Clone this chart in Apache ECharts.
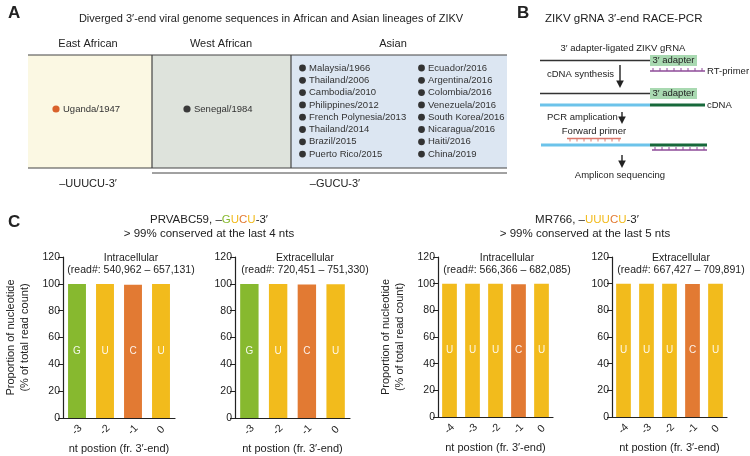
<!DOCTYPE html>
<html>
<head>
<meta charset="utf-8">
<style>
  html, body { margin: 0; padding: 0; background: #fff; }
  #chart { width: 750px; height: 456px; }
</style>
<script src="https://cdn.jsdelivr.net/npm/echarts@6/dist/echarts.min.js"></script>
</head>
<body>
<div id="chart"></div>
<script>
// --- data ---
const prvPositions = ['-3', '-2', '-1', '0'];
const prvBases = ['G', 'U', 'C', 'U'];
const prvIntra = [99.8, 99.9, 99.3, 99.8];
const prvExtra = [99.9, 99.8, 99.5, 99.7];

const mrPositions = ['-4', '-3', '-2', '-1', '0'];
const mrBases = ['U', 'U', 'U', 'C', 'U'];
const mrIntra = [99.9, 99.9, 99.9, 99.6, 99.9];
const mrExtra = [99.9, 99.9, 99.9, 99.7, 99.9];

const yTicks = [0, 20, 40, 60, 80, 100, 120];

const asianCol1 = ['Malaysia/1966', 'Thailand/2006', 'Cambodia/2010', 'Philippines/2012',
    'French Polynesia/2013', 'Thailand/2014', 'Brazil/2015', 'Puerto Rico/2015'];
const asianCol2 = ['Ecuador/2016', 'Argentina/2016', 'Colombia/2016', 'Venezuela/2016',
    'South Korea/2016', 'Nicaragua/2016', 'Haiti/2016', 'China/2019'];

const FONT = '"Liberation Sans", Arial, sans-serif';
const INK = '#222';
const baseColor = { G: '#87b92f', U: '#f2bb1c', C: '#e27a33' };

const chart = echarts.init(document.getElementById('chart'));

// --- helpers for the diagram panels ---
function txt(x, y, text, size, opt) {
    opt = opt || {};
    return {
        type: 'text', x: x, y: y, silent: true,
        style: Object.assign({
            text: text, fontSize: size, fontFamily: FONT, fill: INK,
            align: 'center', verticalAlign: 'middle'
        }, opt)
    };
}
function line(x1, y1, x2, y2, color, w) {
    return { type: 'line', silent: true, shape: { x1: x1, y1: y1, x2: x2, y2: y2 }, style: { stroke: color, lineWidth: w || 1 } };
}
function arrow(x, y1, y2) {
    return [
        line(x, y1, x, y2 - 5, '#222', 1.4),
        { type: 'polygon', silent: true, shape: { points: [[x - 3.8, y2 - 7.5], [x + 3.8, y2 - 7.5], [x, y2]] }, style: { fill: '#222' } }
    ];
}
function primer(x1, x2, y, color, dir) {
    const els = [line(x1, y, x2, y, color, 1.3)];
    for (let x = x1 + 3; x < x2; x += 7) {
        els.push(line(x, y, x, y + dir * 3, color, 1));
    }
    return els;
}

const graphics = [];

// panel A
graphics.push(txt(8, 13, 'A', 17, { fontWeight: 'bold', align: 'left' }));
graphics.push(txt(271, 19, 'Diverged 3\u2032-end viral genome sequences in African and Asian lineages of ZIKV', 11));
graphics.push(txt(88, 44, 'East African', 11));
graphics.push(txt(221, 44, 'West African', 11));
graphics.push(txt(393, 44, 'Asian', 11));
graphics.push({ type: 'rect', silent: true, shape: { x: 28, y: 55, width: 124, height: 113 }, style: { fill: '#fbf8e3' } });
graphics.push({ type: 'rect', silent: true, shape: { x: 152, y: 55, width: 139, height: 113 }, style: { fill: '#dee3dc' } });
graphics.push({ type: 'rect', silent: true, shape: { x: 291, y: 55, width: 216, height: 113 }, style: { fill: '#dce6f2' } });
graphics.push(line(28, 55, 507, 55, '#444', 1.2));
graphics.push(line(28, 168, 507, 168, '#444', 1.2));
graphics.push(line(152, 55, 152, 168, '#444', 1.2));
graphics.push(line(291, 55, 291, 168, '#444', 1.2));
graphics.push(line(152, 173, 507, 173, '#444', 1));
graphics.push({ type: 'circle', silent: true, shape: { cx: 56, cy: 109, r: 3.6 }, style: { fill: '#d9622b' } });
graphics.push(txt(63, 109, 'Uganda/1947', 9.5, { align: 'left', fill: '#333' }));
graphics.push({ type: 'circle', silent: true, shape: { cx: 187, cy: 109, r: 3.6 }, style: { fill: '#3a3a3a' } });
graphics.push(txt(194, 109, 'Senegal/1984', 9.5, { align: 'left', fill: '#333' }));
asianCol1.forEach((s, i) => {
    const y = 68 + i * 12.3;
    graphics.push({ type: 'circle', silent: true, shape: { cx: 302.5, cy: y, r: 3.4 }, style: { fill: '#333' } });
    graphics.push(txt(309, y, s, 9.5, { align: 'left', fill: '#333' }));
});
asianCol2.forEach((s, i) => {
    const y = 68 + i * 12.3;
    graphics.push({ type: 'circle', silent: true, shape: { cx: 421.5, cy: y, r: 3.4 }, style: { fill: '#333' } });
    graphics.push(txt(428, y, s, 9.5, { align: 'left', fill: '#333' }));
});
graphics.push(txt(88, 184, '\u2013UUUCU-3\u2032', 11));
graphics.push(txt(335, 184, '\u2013GUCU-3\u2032', 11));

// panel B
graphics.push(txt(517, 13, 'B', 17, { fontWeight: 'bold', align: 'left' }));
graphics.push(txt(545, 19, 'ZIKV gRNA 3\u2032-end RACE-PCR', 11.5, { align: 'left' }));
graphics.push(txt(623, 48, '3\u2032 adapter-ligated ZIKV gRNA', 9.5));
graphics.push(line(540, 60.5, 650, 60.5, '#333', 1.3));
graphics.push({ type: 'rect', silent: true, shape: { x: 650, y: 55, width: 47, height: 11 }, style: { fill: '#a9d9b1' } });
graphics.push(txt(673.5, 60.5, '3\u2032 adapter', 9.5));
graphics.push(...primer(650, 705, 71, '#8e4b98', -1));
graphics.push(txt(707, 71, 'RT-primer', 9.5, { align: 'left' }));
graphics.push(...arrow(620, 65, 88));
graphics.push(txt(547, 74, 'cDNA synthesis', 9.5, { align: 'left' }));
graphics.push(line(540, 93.5, 650, 93.5, '#333', 1.3));
graphics.push({ type: 'rect', silent: true, shape: { x: 650, y: 88, width: 47, height: 11 }, style: { fill: '#a9d9b1' } });
graphics.push(txt(673.5, 93.5, '3\u2032 adapter', 9.5));
graphics.push(line(540, 105, 650, 105, '#6cc3ea', 3.2));
graphics.push(line(650, 105, 705, 105, '#17693b', 3.2));
graphics.push(txt(707, 105, 'cDNA', 9.5, { align: 'left' }));
graphics.push(txt(547, 117, 'PCR amplication', 9.5, { align: 'left' }));
graphics.push(...arrow(622, 112, 124));
graphics.push(txt(594, 131, 'Forward primer', 9.5));
graphics.push(...primer(567, 621, 138.5, '#d9776b', 1));
graphics.push(line(541, 145, 650, 145, '#6cc3ea', 3.2));
graphics.push(line(650, 145, 707, 145, '#17693b', 3.2));
graphics.push(...primer(652, 707, 150, '#8e4b98', -1));
graphics.push(...arrow(622, 155, 168));
graphics.push(txt(620, 175, 'Amplicon sequencing', 9.5));

// panel C headings
graphics.push(txt(8, 222, 'C', 17, { fontWeight: 'bold', align: 'left' }));
graphics.push({
    type: 'text', x: 209, y: 220, silent: true,
    style: {
        text: 'PRVABC59, \u2013{g|G}{u|U}{c|C}{u|U}-3\u2032', fontSize: 11.5, fontFamily: FONT, fill: INK,
        align: 'center', verticalAlign: 'middle',
        rich: { g: { fill: baseColor.G, fontSize: 11.5, fontFamily: FONT }, u: { fill: baseColor.U, fontSize: 11.5, fontFamily: FONT }, c: { fill: baseColor.C, fontSize: 11.5, fontFamily: FONT } }
    }
});
graphics.push(txt(209, 234, '> 99% conserved at the last 4 nts', 11.5));
graphics.push({
    type: 'text', x: 587, y: 220, silent: true,
    style: {
        text: 'MR766, \u2013{u|UUU}{c|C}{u|U}-3\u2032', fontSize: 11.5, fontFamily: FONT, fill: INK,
        align: 'center', verticalAlign: 'middle',
        rich: { u: { fill: baseColor.U, fontSize: 11.5, fontFamily: FONT }, c: { fill: baseColor.C, fontSize: 11.5, fontFamily: FONT } }
    }
});
graphics.push(txt(585, 234, '> 99% conserved at the last 5 nts', 11.5));

// sub-chart titles
const subTitles = [
    [131, 'Intracellular', '(read#: 540,962 \u2013 657,131)'],
    [305, 'Extracellular', '(read#: 720,451 \u2013 751,330)'],
    [507, 'Intracellular', '(read#: 566,366 \u2013 682,085)'],
    [681, 'Extracellular', '(read#: 667,427 \u2013 709,891)']
];
subTitles.forEach(t => {
    graphics.push(txt(t[0], 258, t[1], 10.5));
    graphics.push(txt(t[0], 270.5, t[2], 10.5));
});

// --- grids / axes ---
const grids = [
    { left: 63, top: 257, width: 112, height: 161 },
    { left: 235, top: 257, width: 115, height: 161 },
    { left: 438, top: 257, width: 115, height: 160 },
    { left: 612, top: 257, width: 115, height: 160 }
];
const cats = [prvPositions, prvPositions, mrPositions, mrPositions];
const vals = [prvIntra, prvExtra, mrIntra, mrExtra];
const bases = [prvBases, prvBases, mrBases, mrBases];

const xAxes = cats.map((c, i) => ({
    type: 'category', gridIndex: i, data: c,
    name: 'nt postion (fr. 3\u2032-end)', nameLocation: 'middle', nameGap: 25,
    nameTextStyle: { fontSize: 11, fontFamily: FONT, color: INK },
    axisLine: { lineStyle: { color: INK, width: 1.2 } },
    axisTick: { alignWithLabel: true, length: 4, lineStyle: { color: INK } },
    axisLabel: {
        rotate: 45, fontSize: 10.5, fontFamily: FONT, color: INK, margin: 12,
        align: 'center', verticalAlign: 'middle'
    }
}));
const yAxes = cats.map((c, i) => ({
    type: 'value', gridIndex: i, min: yTicks[0], max: yTicks[yTicks.length - 1], interval: 20,
    name: (i === 0 || i === 2) ? 'Proportion of nucleotide\n(% of total read count)' : '',
    nameLocation: 'middle', nameRotate: 90, nameGap: 31,
    nameTextStyle: { fontSize: 11, fontFamily: FONT, color: INK, lineHeight: 14 },
    axisLine: { show: true, lineStyle: { color: INK, width: 1.2 } },
    axisTick: { show: true, length: 5, lineStyle: { color: INK } },
    axisLabel: { fontSize: 10.5, fontFamily: FONT, color: INK, margin: 3 },
    splitLine: { show: false }
}));
const series = vals.map((v, i) => ({
    type: 'bar', xAxisIndex: i, yAxisIndex: i, barWidth: '64%',
    data: v,
    itemStyle: { color: p => baseColor[bases[i][p.dataIndex]] },
    label: {
        show: true, position: 'inside', fontSize: 10, fontFamily: FONT,
        color: 'rgba(255,255,255,0.9)', formatter: p => bases[i][p.dataIndex]
    },
    silent: true
}));

chart.setOption({
    backgroundColor: '#fff',
    animation: false,
    grid: grids,
    xAxis: xAxes,
    yAxis: yAxes,
    series: series,
    graphic: graphics
});
</script>
</body>
</html>
